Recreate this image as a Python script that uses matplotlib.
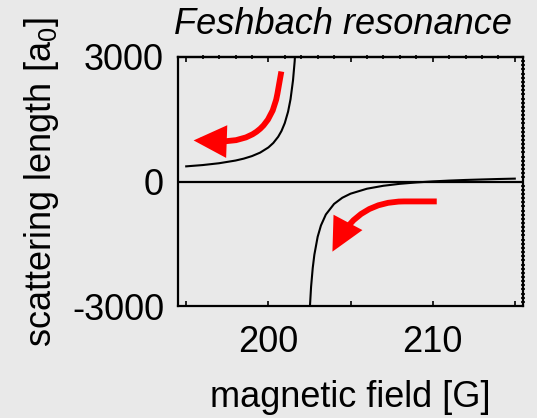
import matplotlib
matplotlib.use("Agg")
import matplotlib.pyplot as plt
from matplotlib.patches import FancyArrowPatch
from matplotlib.ticker import MultipleLocator, NullFormatter

plt.rcParams['font.family'] = ['Liberation Sans', 'DejaVu Sans']
plt.rcParams['mathtext.fontset'] = 'custom'
plt.rcParams['mathtext.rm'] = 'Liberation Sans'
plt.rcParams['mathtext.it'] = 'Liberation Sans:italic'
plt.rcParams['axes.unicode_minus'] = False

bg = '#e9e9e9'

# scattering length below the resonance (B < B0)
field_below = [195.0, 196.0, 197.0, 198.0, 198.5, 199.0, 199.5, 200.0, 200.3,
               200.6, 200.8, 201.0, 201.2, 201.35, 201.5, 201.6, 201.65]
a_below = [365, 396, 440, 505, 551, 612, 696, 820, 928,
           1079, 1218, 1408, 1682, 1984, 2436, 2888, 3190]

# scattering length above the resonance (B > B0)
field_above = [202.5, 202.6, 202.7, 202.8, 203.0, 203.2, 203.5, 204.0, 204.5,
               205.0, 206.0, 207.0, 208.0, 209.0, 210.0, 211.0, 212.0, 213.0,
               214.0, 215.0]
a_above = [-3219, -2540, -2088, -1765, -1334, -1060, -795, -540, -392,
           -294, -174, -103, -56, -23, 2, 22, 37, 49, 60, 69]

# sweep direction arrows: (start, end) in data units
arrow_up = ((200.79, 2650), (195.45, 990))
arrow_down = ((210.25, -480), (203.9, -1690))

x_ticks = [200, 210]
y_ticks = [-3000, 0, 3000]

fig = plt.figure(figsize=(5.37, 4.18), dpi=100, facecolor=bg)
ax = fig.add_axes([178/537, 1 - 306/418, 345/537, 249/418])
ax.set_facecolor(bg)

ax.plot(field_below, a_below, color='black', lw=1.5)
ax.plot(field_above, a_above, color='black', lw=1.5)
ax.axhline(0, color='black', lw=1.6)

for (start, end), style in [(arrow_up, 'angle,angleA=-100,angleB=178,rad=50'),
                            (arrow_down, 'angle,angleA=180,angleB=62,rad=45')]:
    ax.add_patch(FancyArrowPatch(start, end, connectionstyle=style,
                                 arrowstyle='-|>,head_length=0.85,head_width=0.42',
                                 mutation_scale=20, color='red', lw=4.2,
                                 shrinkA=0, shrinkB=0, joinstyle='miter',
                                 capstyle='butt'))

ax.set_xlim(194.5, 215.5)
ax.set_ylim(-3000, 3000)
ax.set_xticks(x_ticks)
ax.set_yticks(y_ticks)
ax.xaxis.set_minor_locator(MultipleLocator(5))
ax.yaxis.set_minor_locator(MultipleLocator(100))

for s in ax.spines.values():
    s.set_linewidth(1.6)

ax.tick_params(axis='both', which='major', direction='in', length=3.5, width=1.2,
               labelsize=26, top=False, right=True)
ax.tick_params(axis='x', which='major', pad=14)
ax.tick_params(axis='y', which='major', pad=10)
ax.tick_params(axis='x', which='minor', direction='in', length=3.5, width=1.2,
               top=False, bottom=True)
ax.tick_params(axis='y', which='minor', direction='inout', length=3, width=1.2,
               left=False, right=True)

# top edge: ticks every 5 G with small marks every 1 G
top = ax.secondary_xaxis('top')
top.set_xticks(list(range(195, 216, 5)))
top.xaxis.set_major_formatter(NullFormatter())
top.xaxis.set_minor_locator(MultipleLocator(1))
top.tick_params(which='major', direction='in', length=3.5, width=1.2)
top.tick_params(which='minor', direction='inout', length=2.5, width=1.2)
top.spines['top'].set_linewidth(1.6)

ax.set_xlabel('magnetic field [G]', fontsize=26, labelpad=14)
ax.set_ylabel(r'scattering length [a$_0$]', fontsize=26, labelpad=8)
fig.text(512/537, 1 - 25/418, 'Feshbach resonance', fontsize=26,
         style='italic', ha='right', va='center')

fig.savefig('out.png', dpi=100, facecolor=bg)
